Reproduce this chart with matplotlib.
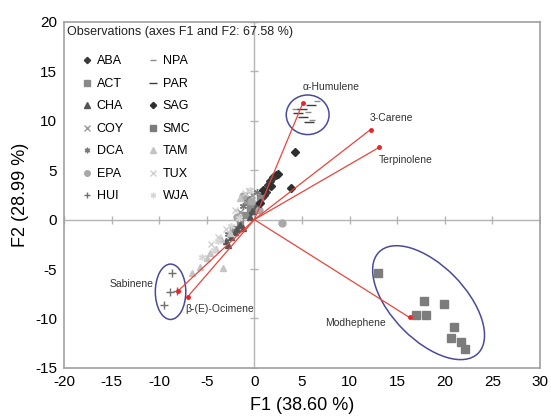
import matplotlib.pyplot as plt
from matplotlib.patches import Ellipse

plt.rcParams['font.family'] = ['Liberation Sans', 'DejaVu Sans']
plt.rcParams['axes.unicode_minus'] = False

# observations (F1, F2) per group
groups = ['ABA', 'ACT', 'CHA', 'COY', 'DCA', 'EPA', 'HUI',
          'NPA', 'PAR', 'SAG', 'SMC', 'TAM', 'TUX', 'WJA']
obs_x = {
    'ABA': [1.4, 2.3, 2.0, 1.0, 0.8, 1.2, 0.4, -0.3, 1.6],
    'ACT': [-1.0, -0.5, 0.2, -1.5, -2.2, -0.8, 0.6],
    'CHA': [-2.0, -2.5, -1.5, -3.0, -0.5, -1.2, -0.2, -2.8, -1.8, 0.2],
    'COY': [-1.0, -0.2, -1.5, -0.6],
    'DCA': [-0.8, 0.3, -2.8, -1.2],
    'EPA': [2.9, 0.5, -0.3, -1.8, -1.2],
    'HUI': [-8.7, -8.9, -8.1, -9.5],
    'NPA': [6.6, 4.3, 5.6, 6.1],
    'PAR': [5.9, 5.0, 4.6, 5.1, 5.7],
    'SAG': [4.3, 3.8, 2.5, 0.6, 1.8, 0.9],
    'SMC': [13.0, 17.8, 19.9, 17.0, 18.0, 21.0, 20.7, 21.7, 22.1],
    'TAM': [-5.7, -3.3, -4.7, -4.0, -3.5, -1.5, -6.5, -2.6, -5.0],
    'TUX': [-4.5, -3.0, -1.0, -2.0, -3.8],
    'WJA': [-5.5, -3.8, -2.5, -0.5, -4.2, -1.6],
}
obs_y = {
    'ABA': [3.5, 4.5, 4.3, 2.5, 2.3, 2.8, 1.6, 0.9, 3.9],
    'ACT': [0.5, 1.2, 1.5, -0.2, -1.0, 1.9, 2.2],
    'CHA': [-1.3, -1.8, -0.5, -2.2, 0.3, -0.8, 0.9, -2.6, -1.0, 1.3],
    'COY': [1.8, 2.5, 0.8, 2.9],
    'DCA': [2.2, 2.8, -1.5, 1.4],
    'EPA': [-0.3, 1.0, 1.9, 0.3, 2.4],
    'HUI': [-5.4, -7.3, -7.2, -8.6],
    'NPA': [12.0, 11.2, 10.9, 10.1],
    'PAR': [11.6, 11.2, 10.8, 10.4, 9.9],
    'SAG': [6.8, 3.2, 4.6, 1.7, 3.4, 3.0],
    'SMC': [-5.4, -8.2, -8.5, -9.6, -9.6, -10.9, -12.0, -12.4, -13.1],
    'TAM': [-4.8, -4.9, -3.4, -3.0, -2.0, 2.2, -5.4, -1.4, -3.9],
    'TUX': [-2.5, -1.0, 2.7, 1.0, -1.8],
    'WJA': [-3.8, -2.2, -0.6, 3.0, -3.1, 0.2],
}
markers = {'ABA': 'D', 'ACT': 's', 'CHA': '^', 'COY': 'x', 'DCA': (6, 2, 0),
           'EPA': 'o', 'HUI': '+', 'NPA': '_', 'PAR': '_', 'SAG': 'D',
           'SMC': 's', 'TAM': '^', 'TUX': 'x', 'WJA': (6, 2, 0)}
colors = {'ABA': '#3a3a3a', 'ACT': '#8a8a8a', 'CHA': '#555555', 'COY': '#9a9a9a',
          'DCA': '#777777', 'EPA': '#a8a8a8', 'HUI': '#707070', 'NPA': '#8c8c8c',
          'PAR': '#3c3c3c', 'SAG': '#2e2e2e', 'SMC': '#7c7c7c', 'TAM': '#c4c4c4',
          'TUX': '#d0d0d0', 'WJA': '#d6d6d6'}
sizes = {'ABA': 4, 'ACT': 5, 'CHA': 5, 'COY': 5, 'DCA': 5, 'EPA': 5, 'HUI': 6,
         'NPA': 5, 'PAR': 7, 'SAG': 4, 'SMC': 5.5, 'TAM': 5, 'TUX': 5, 'WJA': 5}

# variables (loading vectors)
var_names = ['α-Humulene', '3-Carene', 'Terpinolene', 'Modhephene', 'Sabinene', 'β-(E)-Ocimene']
var_x = [5.1, 12.2, 13.1, 16.3, -8.0, -7.0]
var_y = [11.8, 9.1, 7.3, -9.9, -7.2, -7.8]
label_x = [5.1, 12.1, 13.1, 7.4, -15.2, -7.25]
label_y = [13.4, 10.3, 6.0, -10.5, -6.5, -9.0]

xticks = list(range(-20, 31, 5))
yticks = list(range(-15, 21, 5))

fig = plt.figure(figsize=(5.51, 4.2), dpi=100)
ax = fig.add_axes([0.116, 0.124, 0.864, 0.824])
ax.set_xlim(-20, 30)
ax.set_ylim(-15, 20)

ax.axhline(0, color='#b4b4b4', lw=1, zorder=1)
ax.axvline(0, color='#b4b4b4', lw=1, zorder=1)
ax.plot([t for t in xticks if t != 0], [0] * (len(xticks) - 1), ls='none',
        marker='|', ms=6, color='#b4b4b4', zorder=1)
ax.plot([0] * (len(yticks) - 1), [t for t in yticks if t != 0], ls='none',
        marker='_', ms=6, color='#b4b4b4', zorder=1)

for g in groups:
    ax.plot(obs_x[g], obs_y[g], ls='none', marker=markers[g], ms=sizes[g],
            color=colors[g], mew=1.0, label=g, zorder=3)

for n, vx, vy, lx, ly in zip(var_names, var_x, var_y, label_x, label_y):
    ax.plot([0, vx], [0, vy], color='#e8453c', lw=0.9, zorder=4)
    ax.plot(vx, vy, marker='o', ms=2.5, color='#e8252a', zorder=5)
    ax.text(lx, ly, n, fontsize=7.5, color='#333333', ha='left', va='center', zorder=6)

ell_col = '#4a4a9c'
ax.add_patch(Ellipse((5.6, 10.6), 4.5, 4.0, fill=False, ec=ell_col, lw=1.1, zorder=2))
ax.add_patch(Ellipse((-8.8, -7.3), 3.2, 5.6, fill=False, ec=ell_col, lw=1.1, zorder=2))
ax.add_patch(Ellipse((18.3, -8.4), 14.6, 7.6, angle=-44, fill=False, ec=ell_col, lw=1.1, zorder=2))

ax.text(0.006, 0.971, 'Observations (axes F1 and F2: 67.58 %)', transform=ax.transAxes,
        fontsize=9, ha='left', va='center', color='#222222')
ax.legend(loc='upper left', bbox_to_anchor=(0.035, 0.903), ncol=2, frameon=False,
          fontsize=9, handlelength=1.0, handletextpad=0.3, columnspacing=1.8,
          labelspacing=0.84, borderpad=0, borderaxespad=0, markerscale=0.8)

ax.set_xticks(xticks)
ax.set_yticks(yticks)
ax.tick_params(length=0, labelsize=11, pad=5)
for s in ax.spines.values():
    s.set_color('#a0a0a0')
    s.set_linewidth(1.2)
ax.set_xlabel('F1 (38.60 %)', fontsize=13, labelpad=6)
ax.set_ylabel('F2 (28.99 %)', fontsize=13, labelpad=4)

fig.savefig('out.png', dpi=100)
